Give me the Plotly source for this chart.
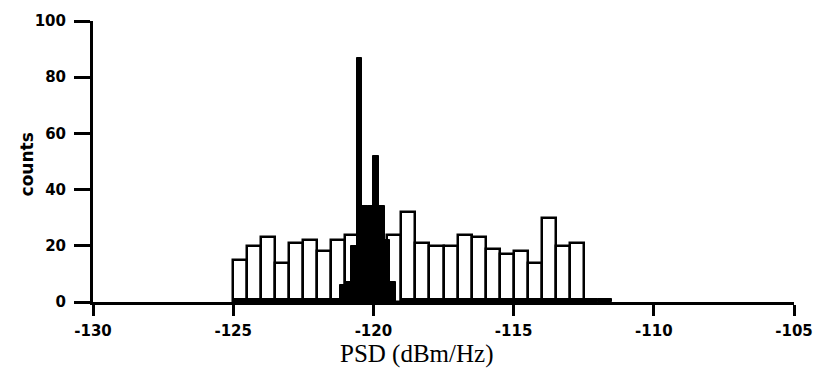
import plotly.graph_objects as go

# White histogram (0.5 dBm/Hz bins), left edges from -125 to -112.5
white_left_edges = [-125.0, -124.5, -124.0, -123.5, -123.0, -122.5, -122.0, -121.5, -121.0,
                    -120.5, -120.0, -119.5, -119.0, -118.5, -118.0, -117.5, -117.0, -116.5,
                    -116.0, -115.5, -115.0, -114.5, -114.0, -113.5, -113.0]
white_counts = [15, 20, 23, 14, 21, 22, 18, 22, 24,
                28, 20, 24, 32, 21, 20, 20, 24, 23,
                19, 17, 18, 14, 30, 20, 21]

# Black narrow histogram (0.2 dBm/Hz bins)
black_left_edges = [-121.2, -121.0, -120.8, -120.6, -120.4, -120.2, -120.0, -119.8, -119.6, -119.4]
black_counts = [6, 7, 20, 87, 34, 34, 52, 34, 22, 7]

# Thin black baseline histogram (0.5 dBm/Hz bins)
base_left_edges = [-125.0, -124.5, -124.0, -123.5, -123.0, -122.5, -122.0, -121.5,
                   -119.0, -118.5, -118.0, -117.5, -117.0, -116.5, -116.0, -115.5,
                   -115.0, -114.5, -114.0, -113.5, -113.0, -112.5, -112.0]
base_counts = [1] * len(base_left_edges)

x_ticks = [-130, -125, -120, -115, -110, -105]
x_tick_labels = ["-130", "-125", "-120", "-115", "-110", "-105"]
y_ticks = [0, 20, 40, 60, 80, 100]
y_tick_labels = ["0", "20", "40", "60", "80", "100"]

fig = go.Figure()
fig.add_trace(go.Bar(
    x=white_left_edges, y=white_counts, width=0.5, offset=0,
    marker=dict(color="white", line=dict(color="black", width=2.5)),
    showlegend=False,
))
fig.add_trace(go.Bar(
    x=base_left_edges, y=base_counts, width=0.5, offset=0,
    marker=dict(color="black", line=dict(color="black", width=1)),
    showlegend=False,
))
fig.add_trace(go.Bar(
    x=black_left_edges, y=black_counts, width=0.2, offset=0,
    marker=dict(color="black", line=dict(color="black", width=1)),
    showlegend=False,
))

tickfont = dict(family="DejaVu Sans", size=15, color="black", weight="bold")

fig.update_layout(
    width=825, height=368,
    margin=dict(l=93, r=29, t=16, b=66),
    paper_bgcolor="white", plot_bgcolor="white",
    barmode="overlay", bargap=0,
    xaxis=dict(
        range=[-130, -105], tickvals=x_ticks, ticktext=x_tick_labels,
        showgrid=False, zeroline=False, showline=True, linewidth=3, linecolor="black",
        ticks="outside", ticklen=11, tickwidth=3, tickcolor="black",
        tickfont=tickfont, ticklabelstandoff=2,
    ),
    yaxis=dict(
        range=[0, 100], tickvals=y_ticks, ticktext=y_tick_labels,
        showgrid=False, zeroline=False, showline=True, linewidth=3, linecolor="black",
        ticks="outside", ticklen=16, tickwidth=3, tickcolor="black",
        tickfont=tickfont, ticklabelstandoff=5,
    ),
    annotations=[
        dict(text="PSD (dBm/Hz)", xref="paper", yref="paper", x=0.462, y=-0.185,
             xanchor="center", yanchor="middle", showarrow=False,
             font=dict(family="Liberation Serif", size=25, color="black")),
        dict(text="counts", xref="paper", yref="paper", x=-0.094, y=0.49,
             xanchor="center", yanchor="middle", showarrow=False, textangle=-90,
             font=dict(family="DejaVu Sans", size=17, color="black", weight="bold")),
    ],
)

fig.write_html(
    "out.html",
    config={"displayModeBar": False},
    post_script="document.body.style.margin='0';document.body.style.overflow='hidden';",
)
